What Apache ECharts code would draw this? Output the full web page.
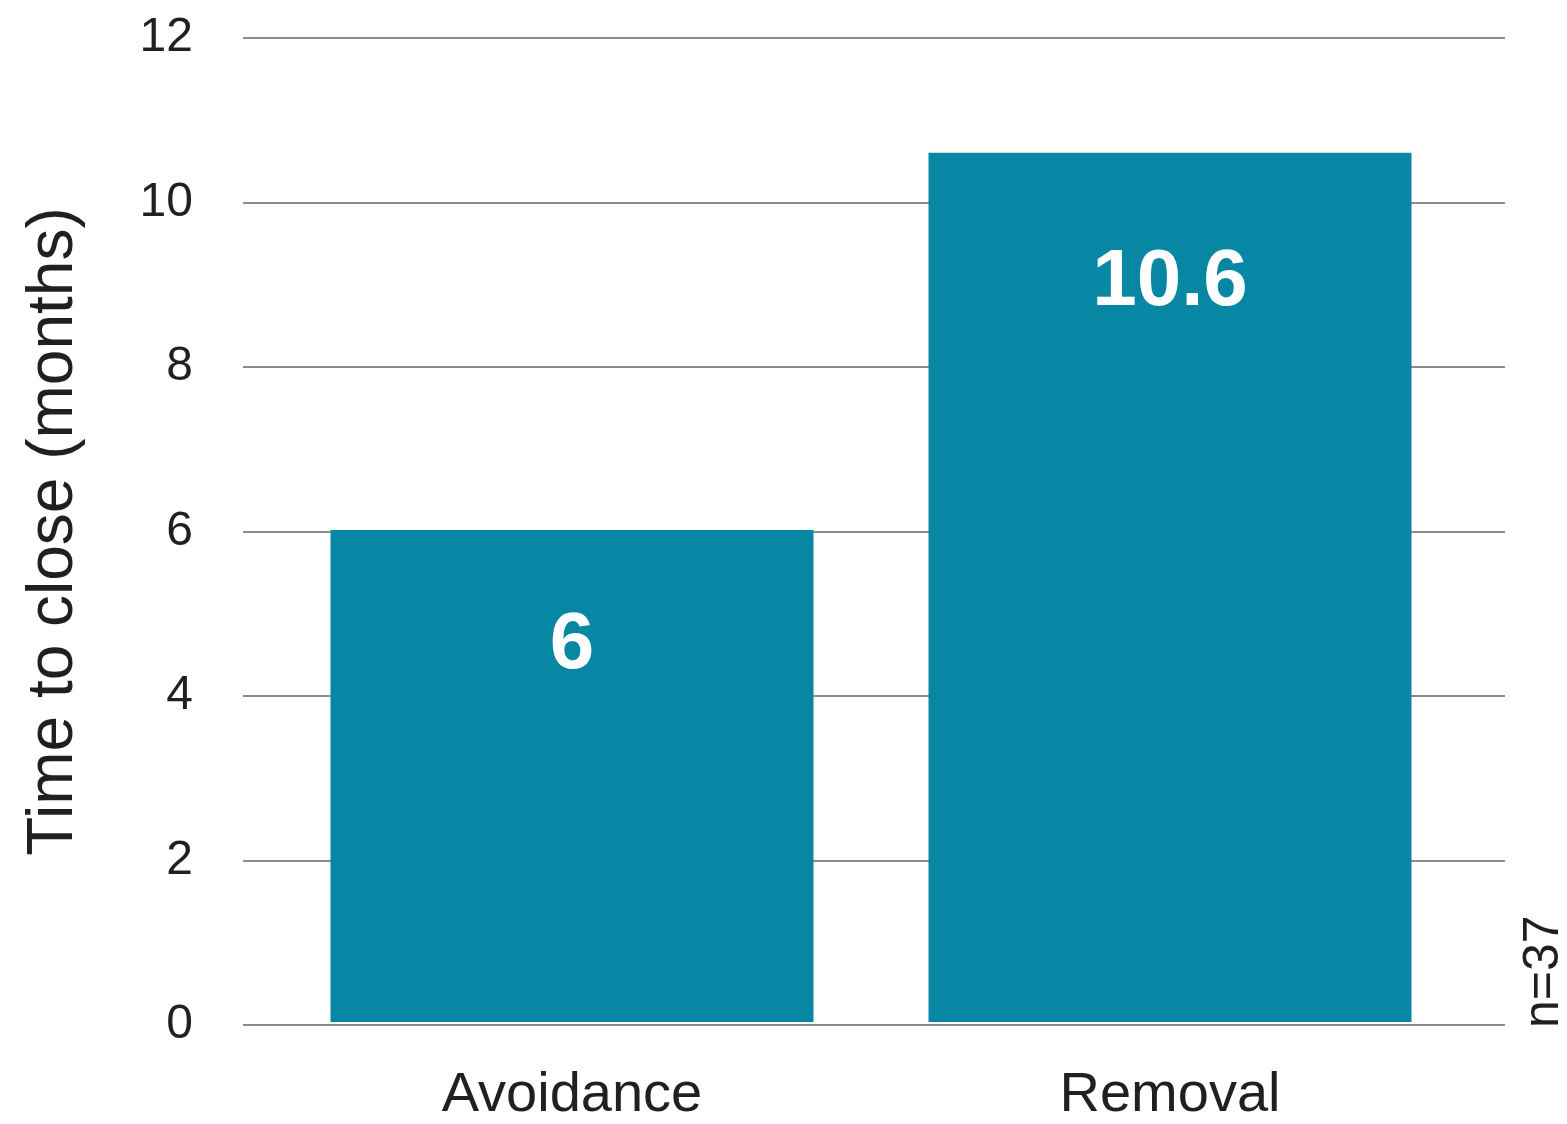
<!DOCTYPE html>
<html>
<head>
<meta charset="utf-8">
<script src="https://cdn.jsdelivr.net/npm/echarts@6/dist/echarts.min.js"></script>
<style>
  html, body { margin: 0; padding: 0; background: #fff; }
  #chart { width: 1567px; height: 1124px; }
</style>
</head>
<body>
<div id="chart"></div>
<script>
// Average time to close, by approach
const categories = ['Avoidance', 'Removal'];
const months = [6, 10.6];
const yTicks = [0, 2, 4, 6, 8, 10, 12];
const sampleNote = 'n=37';

const FONT = '"Liberation Sans", Arial, Helvetica, sans-serif';
const TEXT = '#231f20';
const BAR = '#0787a3';
const GRIDLINE = '#8c8c8c';

// distance of the value label from each bar's top edge
const labelDistance = [76, 90];

const chart = echarts.init(document.getElementById('chart'));

chart.setOption({
  animation: false,
  grid: [
    // gridlines and tick labels
    { left: 243, right: 62, top: 38, bottom: 99 },
    // bars and category labels
    { left: 273, right: 98, top: 38, bottom: 99 }
  ],
  xAxis: [
    { type: 'category', gridIndex: 0, data: categories, show: false },
    {
      type: 'category', gridIndex: 1, data: categories,
      axisLine: { show: false }, axisTick: { show: false },
      axisLabel: { color: TEXT, fontFamily: FONT, fontSize: 56, margin: 46 }
    }
  ],
  yAxis: [
    {
      type: 'value', gridIndex: 0, min: yTicks[0], max: yTicks[yTicks.length - 1], interval: 2,
      name: 'Time to close (months)', nameLocation: 'middle', nameGap: 157,
      nameTextStyle: { color: TEXT, fontFamily: FONT, fontSize: 64 },
      axisLine: { show: false }, axisTick: { show: false },
      axisLabel: { color: TEXT, fontFamily: FONT, fontSize: 48, margin: 50 },
      splitLine: { lineStyle: { color: GRIDLINE, width: 2 } }
    },
    {
      type: 'value', gridIndex: 1, min: yTicks[0], max: yTicks[yTicks.length - 1], interval: 2,
      show: false, splitLine: { show: false }
    }
  ],
  series: [{
    type: 'bar',
    xAxisIndex: 1, yAxisIndex: 1,
    barWidth: 483,
    itemStyle: { color: BAR },
    data: months.map((v, i) => ({
      value: v,
      label: { distance: labelDistance[i] }
    })),
    label: {
      show: true, position: 'insideTop',
      color: '#fff', fontFamily: FONT, fontWeight: 'bold', fontSize: 80
    }
  }],
  graphic: [{
    type: 'text',
    x: 1569, y: 1028,
    rotation: Math.PI / 2,
    style: {
      text: sampleNote, fill: TEXT, font: '50px ' + FONT,
      textAlign: 'left', textVerticalAlign: 'bottom'
    }
  }]
});
</script>
</body>
</html>
